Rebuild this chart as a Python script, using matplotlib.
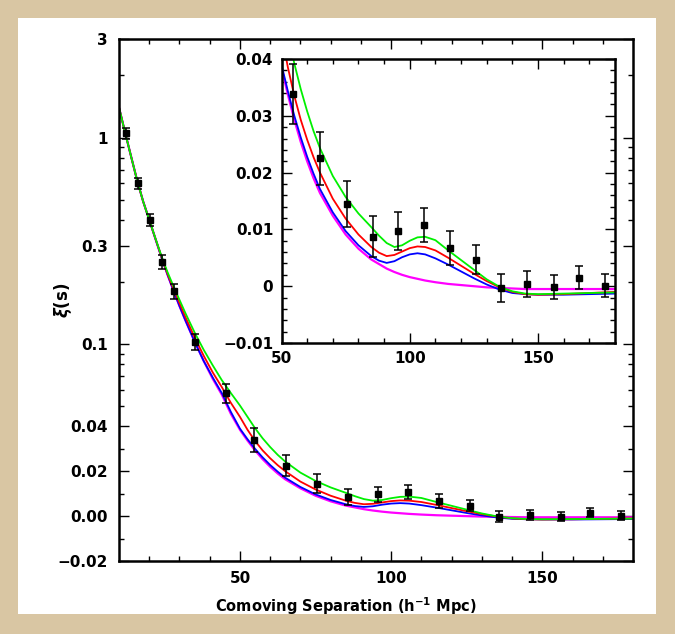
import numpy as np
import matplotlib
matplotlib.use("Agg")
import matplotlib.pyplot as plt
from matplotlib.ticker import FixedLocator, NullFormatter, FixedFormatter
from matplotlib.patches import Rectangle

plt.rcParams['font.family'] = ['DejaVu Sans']
plt.rcParams['font.weight'] = 'bold'
plt.rcParams['mathtext.fontset'] = 'custom'
plt.rcParams['mathtext.rm'] = 'DejaVu Sans:bold'
plt.rcParams['mathtext.bf'] = 'DejaVu Sans:bold'
plt.rcParams['mathtext.it'] = 'DejaVu Sans:bold:italic'

# ---------------- data ----------------
s_data = [12.2, 16.3, 20.2, 24.3, 28.3, 35.1, 45.3, 54.6, 65.1, 75.5, 85.7,
          95.5, 105.5, 115.7, 126.0, 135.7, 145.8, 156.2, 165.9, 176.1]
xi_data = [1.05, 0.60, 0.40, 0.25, 0.18, 0.103, 0.058, 0.0338, 0.0225, 0.0145,
           0.0087, 0.0097, 0.0108, 0.0067, 0.0047, -0.0003, 0.0004, -0.0002,
           0.0015, 0.0001]
xi_err = [0.068, 0.038, 0.028, 0.019, 0.015, 0.009, 0.006, 0.0053, 0.0047,
          0.0041, 0.0036, 0.0034, 0.0030, 0.0030, 0.0026, 0.0024, 0.0023,
          0.0021, 0.0020, 0.0020]

s_model = [10, 12, 14, 16, 18, 20, 22, 24, 26, 28, 30, 32, 35, 38, 41, 44, 47,
           50, 52.5, 55, 57.5, 60, 62.5, 65, 70, 75, 80, 85, 88, 91, 94, 97,
           100, 103, 106, 110, 115, 120, 125, 130, 135, 140, 145, 150, 160,
           170, 180]
xi_green = [1.40, 1.06, 0.81, 0.62, 0.49, 0.40, 0.327, 0.268, 0.224, 0.191,
            0.164, 0.141, 0.114, 0.094, 0.079, 0.067, 0.058,
            0.0505, 0.0445, 0.0392, 0.0347, 0.0308, 0.0273, 0.0243, 0.0194,
            0.0157, 0.0128, 0.0104, 0.0089, 0.0076, 0.0069, 0.0072,
            0.0080, 0.0086, 0.0087, 0.0081, 0.0063, 0.0046, 0.0029, 0.0012,
            -0.0001, -0.0009, -0.0013, -0.0014, -0.0013, -0.0012, -0.0011]
xi_red = [1.40, 1.06, 0.81, 0.62, 0.49, 0.40, 0.326, 0.266, 0.220, 0.186,
          0.158, 0.135, 0.108, 0.088, 0.073, 0.062, 0.052,
          0.0445, 0.0385, 0.0335, 0.0293, 0.0258, 0.0227, 0.0200, 0.0154,
          0.0119, 0.0091, 0.0069, 0.0059, 0.0053, 0.0055, 0.0061,
          0.0067, 0.0070, 0.0069, 0.0063, 0.0050, 0.0036, 0.0022, 0.0009,
          -0.0002, -0.0010, -0.0014, -0.0015, -0.0014, -0.0012, -0.0010]
xi_blue = [1.40, 1.06, 0.81, 0.62, 0.49, 0.40, 0.325, 0.265, 0.218, 0.182,
           0.153, 0.130, 0.103, 0.083, 0.069, 0.058, 0.047,
           0.0390, 0.0343, 0.0300, 0.0262, 0.0228, 0.0198, 0.0171, 0.0130,
           0.0097, 0.0072, 0.0053, 0.0045, 0.0041, 0.0044, 0.0051,
           0.0056, 0.0058, 0.0056, 0.0049, 0.0038, 0.0026, 0.0014, 0.0003,
           -0.0006, -0.0012, -0.0014, -0.0015, -0.0015, -0.0014, -0.0013]
xi_magenta = [1.40, 1.06, 0.81, 0.62, 0.49, 0.40, 0.325, 0.265, 0.218, 0.182,
              0.153, 0.130, 0.103, 0.083, 0.068, 0.057, 0.046,
              0.0385, 0.0337, 0.0293, 0.0254, 0.0220, 0.0190, 0.0164, 0.0124,
              0.0091, 0.0066, 0.0047, 0.0039, 0.0031, 0.0025, 0.0020,
              0.0016, 0.0013, 0.0010, 0.0007, 0.0004, 0.0002, 0.0, -0.0002,
              -0.0003, -0.0004, -0.0005, -0.0005, -0.0005, -0.0005, -0.0005]

main_major = [3, 1, 0.3, 0.1, 0.04, 0.02, 0.0, -0.02]
main_labels = ['3', '1', '0.3', '0.1', '0.04', '0.02', '0.00', '\u22120.02']
main_minor = [2, 0.9, 0.8, 0.7, 0.6, 0.5, 0.4, 0.2, 0.09, 0.08, 0.07, 0.06,
              0.05, 0.03, 0.01, -0.01]
inset_major = [0.04, 0.03, 0.02, 0.01, 0.0, -0.01]
inset_labels = ['0.04', '0.03', '0.02', '0.01', '0', '\u22120.01']

colors = {'green': '#00f000', 'red': '#ff0000', 'blue': '#0000ff',
          'magenta': '#ff00ff'}

# ---------------- scale ----------------
Y0 = 0.04


def fwd(y):
    y = np.asarray(y, dtype=float)
    return np.where(y > Y0, Y0 + Y0 * np.log(np.maximum(y, 1e-12) / Y0), y)


def inv(f):
    f = np.asarray(f, dtype=float)
    return np.where(f > Y0, Y0 * np.exp(np.minimum((f - Y0) / Y0, 50)), f)


W, H = 675, 634
fig = plt.figure(figsize=(W / 100, H / 100), dpi=100)
fig.patch.set_facecolor('#d9c6a3')
bg = Rectangle((18 / W, 1 - 614 / H), (656 - 18) / W, (614 - 18) / H,
               transform=fig.transFigure, facecolor='white',
               edgecolor='none', zorder=-10)
fig.add_artist(bg)


def style_axes(ax, ypad, xpad):
    for sp in ax.spines.values():
        sp.set_linewidth(1.8)
    ax.tick_params(which='both', direction='in', top=True, right=True,
                   width=1.0, labelsize=11)
    ax.tick_params(axis='y', which='both', pad=ypad)
    ax.tick_params(axis='x', which='both', pad=xpad)
    ax.tick_params(which='major', length=7)
    ax.tick_params(which='minor', length=3.5)


def draw_content(a):
    for name, vals, lw in [('magenta', xi_magenta, 1.6), ('blue', xi_blue, 1.3),
                           ('red', xi_red, 1.3), ('green', xi_green, 1.3)]:
        a.plot(s_model, vals, color=colors[name], lw=lw, zorder=2,
               solid_joinstyle='round')
    a.errorbar(s_data, xi_data, yerr=xi_err, fmt='s', color='black', ms=4,
               capsize=3, elinewidth=1.1, capthick=1.1, zorder=3)


ax = fig.add_axes([119 / W, 1 - 561 / H, (633 - 119) / W, (561 - 39) / H])
ax.set_yscale('function', functions=(fwd, inv))
ax.set_xlim(10, 180)
ax.set_ylim(-0.02, 3)
draw_content(ax)
ax.yaxis.set_major_locator(FixedLocator(main_major))
ax.yaxis.set_major_formatter(FixedFormatter(main_labels))
ax.yaxis.set_minor_locator(FixedLocator(main_minor))
ax.yaxis.set_minor_formatter(NullFormatter())
ax.xaxis.set_major_locator(FixedLocator([50, 100, 150]))
ax.xaxis.set_minor_locator(FixedLocator(list(range(20, 180, 10))))
style_axes(ax, 8, 7)
ax.set_xlabel(r'Comoving Separation (h$^{-1}$ Mpc)', fontsize=10.5,
              fontweight='bold')
ax.xaxis.set_label_coords(0.442, -0.066)
ax.set_ylabel(r'$\xi$(s)', fontsize=12, fontweight='bold')
ax.yaxis.set_label_coords(-0.088, 0.5)

# ---------------- inset ----------------
axi = fig.add_axes([281.5 / W, 1 - 343 / H, (615 - 281.5) / W, (343 - 59) / H])
axi.set_xlim(50, 180)
axi.set_ylim(-0.01, 0.04)
draw_content(axi)
axi.yaxis.set_major_locator(FixedLocator(inset_major))
axi.yaxis.set_major_formatter(FixedFormatter(inset_labels))
axi.yaxis.set_minor_locator(FixedLocator(list(np.arange(-0.008, 0.04, 0.002))))
axi.xaxis.set_major_locator(FixedLocator([50, 100, 150]))
axi.xaxis.set_minor_locator(FixedLocator(list(range(60, 180, 10))))
style_axes(axi, 6, 6)

fig.savefig('out.png', dpi=100, facecolor=fig.get_facecolor())
